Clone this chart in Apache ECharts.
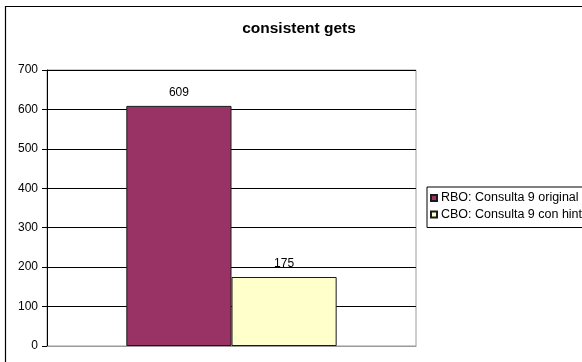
<!DOCTYPE html>
<html>
<head>
<meta charset="utf-8">
<script src="https://cdn.jsdelivr.net/npm/echarts@6/dist/echarts.min.js"></script>
<style>
html,body{margin:0;padding:0;background:#fff;}
#chart{width:582px;height:362px;}
</style>
</head>
<body>
<div id="chart"></div>
<script>
var titleText = 'consistent gets';
var categories = [''];
var seriesNames = ['RBO: Consulta 9 original', 'CBO: Consulta 9 con hint'];
var rboValues = [609];
var cboValues = [175];
var yMin = 0, yMax = 700, yInterval = 100;

var FONT = '"Liberation Sans", Arial, sans-serif';
var chart = echarts.init(document.getElementById('chart'), null, {renderer: 'canvas'});
chart.setOption({
  backgroundColor: '#ffffff',
  animation: false,
  textStyle: {fontFamily: FONT},
  graphic: [{
    type: 'rect', silent: true, z: 100,
    shape: {x: 5.5, y: 6.5, width: 700, height: 500},
    style: {fill: 'none', stroke: '#000', lineWidth: 1.2}
  }, {
    type: 'text', silent: true, z: 100,
    x: 299, y: 29,
    style: {text: titleText, font: 'bold 15.5px ' + FONT, fill: '#000', align: 'center', verticalAlign: 'middle'}
  }],
  legend: {
    orient: 'vertical',
    left: 427, top: 187,
    padding: [4, 30, 6, 3],
    itemGap: 2.5,
    itemWidth: 6, itemHeight: 6,
    icon: 'rect',
    borderColor: '#000', borderWidth: 1,
    textStyle: {fontFamily: FONT, fontSize: 12.5, color: '#000', lineHeight: 14, padding: [0, 0, 0, -1]},
    data: seriesNames
  },
  grid: {left: 47, right: 166, top: 70, bottom: 16, show: true, borderColor: '#9a9a9a', borderWidth: 1, containLabel: false},
  xAxis: {
    type: 'category', data: categories,
    axisLine: {lineStyle: {color: '#9a9a9a'}},
    axisTick: {show: false}, axisLabel: {show: false}
  },
  yAxis: {
    type: 'value', min: yMin, max: yMax, interval: yInterval,
    axisLine: {show: true, lineStyle: {color: '#000'}},
    axisTick: {show: true, length: 5, lineStyle: {color: '#000'}},
    axisLabel: {fontFamily: FONT, fontSize: 12, color: '#000', margin: 9},
    splitLine: {lineStyle: {color: '#000', width: 1}}
  },
  series: [{
    name: seriesNames[0], type: 'bar', data: rboValues,
    barGap: '0%', barCategoryGap: '43%',
    itemStyle: {color: '#993366', borderColor: '#1a1a1a', borderWidth: 1},
    label: {show: true, position: 'top', distance: 7, fontFamily: FONT, fontSize: 12, color: '#000'}
  }, {
    name: seriesNames[1], type: 'bar', data: cboValues,
    itemStyle: {color: '#FFFFCC', borderColor: '#1a1a1a', borderWidth: 1},
    label: {show: true, position: 'top', distance: 7, fontFamily: FONT, fontSize: 12, color: '#000'}
  }]
});
</script>
</body>
</html>
